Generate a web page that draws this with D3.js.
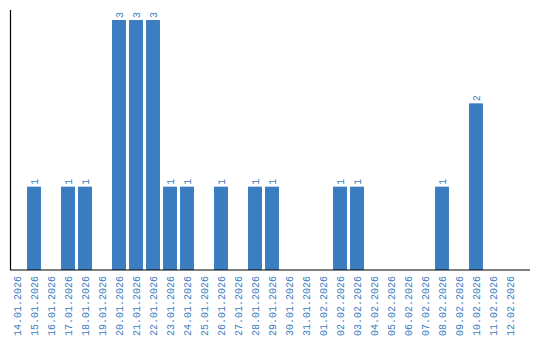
<!DOCTYPE html>
<html>
<head>
<meta charset="utf-8">
<script src="https://cdn.jsdelivr.net/npm/d3@7"></script>
<style>
  body { margin: 0; background: #fff; }
</style>
</head>
<body>
<div id="chart"></div>
<script>
// dates and counts
const dates = ["14.01.2026","15.01.2026","16.01.2026","17.01.2026","18.01.2026","19.01.2026",
  "20.01.2026","21.01.2026","22.01.2026","23.01.2026","24.01.2026","25.01.2026","26.01.2026",
  "27.01.2026","28.01.2026","29.01.2026","30.01.2026","31.01.2026","01.02.2026","02.02.2026",
  "03.02.2026","04.02.2026","05.02.2026","06.02.2026","07.02.2026","08.02.2026","09.02.2026",
  "10.02.2026","11.02.2026","12.02.2026"];
const counts = [0,1,0,1,1,0,3,3,3,1,1,0,1,0,1,1,0,0,0,1,1,0,0,0,0,1,0,2,0,0];

const data = dates.map((d, i) => ({date: d, count: counts[i]}));

const W = 540, H = 340;
const blue = "#3b7dc1";

const svg = d3.select("#chart")
  .append("svg")
  .attr("width", W)
  .attr("height", H);

const x = d3.scaleBand()
  .domain(dates)
  .range([8.5, 518.5])
  .paddingInner(0.18)
  .paddingOuter(0.09);

const y = d3.scaleLinear()
  .domain([0, 3])
  .range([270, 20]);

// bars
svg.selectAll(".bar")
  .data(data.filter(d => d.count > 0))
  .join("rect")
    .attr("class", "bar")
    .attr("x", d => x(d.date))
    .attr("y", d => y(d.count))
    .attr("width", x.bandwidth())
    .attr("height", d => y(0) - y(d.count))
    .style("fill", blue);

// value labels over the bars
svg.selectAll(".val")
  .data(data.filter(d => d.count > 0))
  .join("text")
    .attr("class", "val")
    .attr("transform", d => `translate(${x(d.date) + x.bandwidth() / 2 + 3.5}, ${y(d.count) - 2}) rotate(-90)`)
    .attr("text-anchor", "start")
    .style("font-family", "Liberation Mono, monospace")
    .style("font-size", "10px")
    .style("fill", blue)
    .text(d => d.count);

// x axis
const xAxis = svg.append("g")
  .attr("transform", "translate(0,270)")
  .call(d3.axisBottom(x).tickSize(0).tickPadding(0));
xAxis.select(".domain").remove();
xAxis.selectAll("text")
  .attr("transform", "translate(3.5,6) rotate(-90)")
  .attr("dy", 0)
  .attr("y", 0)
  .attr("x", 0)
  .attr("text-anchor", "end")
  .style("font-family", "Liberation Mono, monospace")
  .style("font-size", "10px")
  .style("fill", blue);

// axis lines
svg.append("line")
  .attr("x1", 10).attr("x2", 530)
  .attr("y1", 270).attr("y2", 270)
  .style("stroke", "#000").style("stroke-width", 1.2);
svg.append("line")
  .attr("x1", 10.5).attr("x2", 10.5)
  .attr("y1", 10).attr("y2", 270)
  .style("stroke", "#000").style("stroke-width", 1.2);
</script>
</body>
</html>
